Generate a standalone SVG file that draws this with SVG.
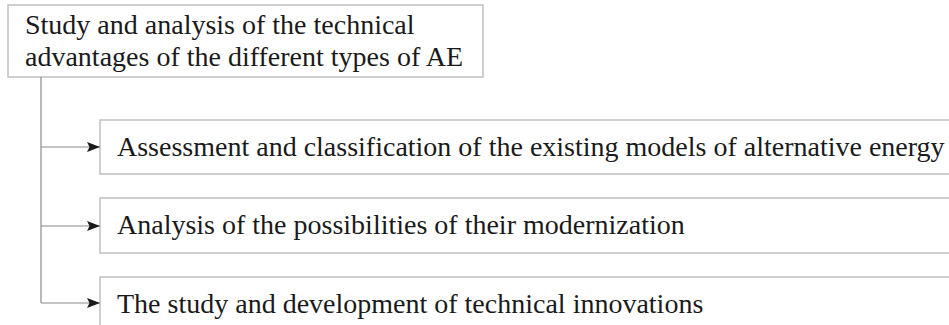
<svg xmlns="http://www.w3.org/2000/svg" width="949" height="325" viewBox="0 0 949 325">
<defs>
<marker id="arr" markerWidth="14" markerHeight="12" refX="13" refY="6" orient="auto" markerUnits="userSpaceOnUse">
<path d="M0,1 L13,6 L0,11 L2.5,6 Z" fill="#1a1a1a"/>
</marker>
<style>
.box{fill:#fff;stroke:#c4c4c4;stroke-width:1.6}
.t{font-family:"Liberation Serif","Times New Roman",serif;font-size:28px;fill:#1a1a1a}
.c{fill:none;stroke:#8a8a8a;stroke-width:1.2}
</style>
</defs>
<rect width="949" height="325" fill="#fff"/>
<g id="root">
<rect class="box" x="8" y="5" width="475" height="72"/>
<text class="t" x="25" y="34">Study and analysis of the technical</text>
<text class="t" x="25" y="66">advantages of the different types of AE</text>
</g>
<g id="n1">
<rect class="box" x="100" y="120" width="860" height="54"/>
<text class="t" x="117" y="156">Assessment and classification of the existing models of alternative energy</text>
</g>
<g id="n2">
<rect class="box" x="100" y="198" width="860" height="55"/>
<text class="t" x="117" y="234">Analysis of the possibilities of their modernization</text>
</g>
<g id="n3">
<rect class="box" x="100" y="277" width="860" height="60"/>
<text class="t" x="117" y="313">The study and development of technical innovations</text>
</g>
<g id="connectors">
<path class="c" d="M41,77 V303"/>
<path class="c" d="M41,147 H100" marker-end="url(#arr)"/>
<path class="c" d="M41,226 H100" marker-end="url(#arr)"/>
<path class="c" d="M41,303 H100" marker-end="url(#arr)"/>
</g>
</svg>
